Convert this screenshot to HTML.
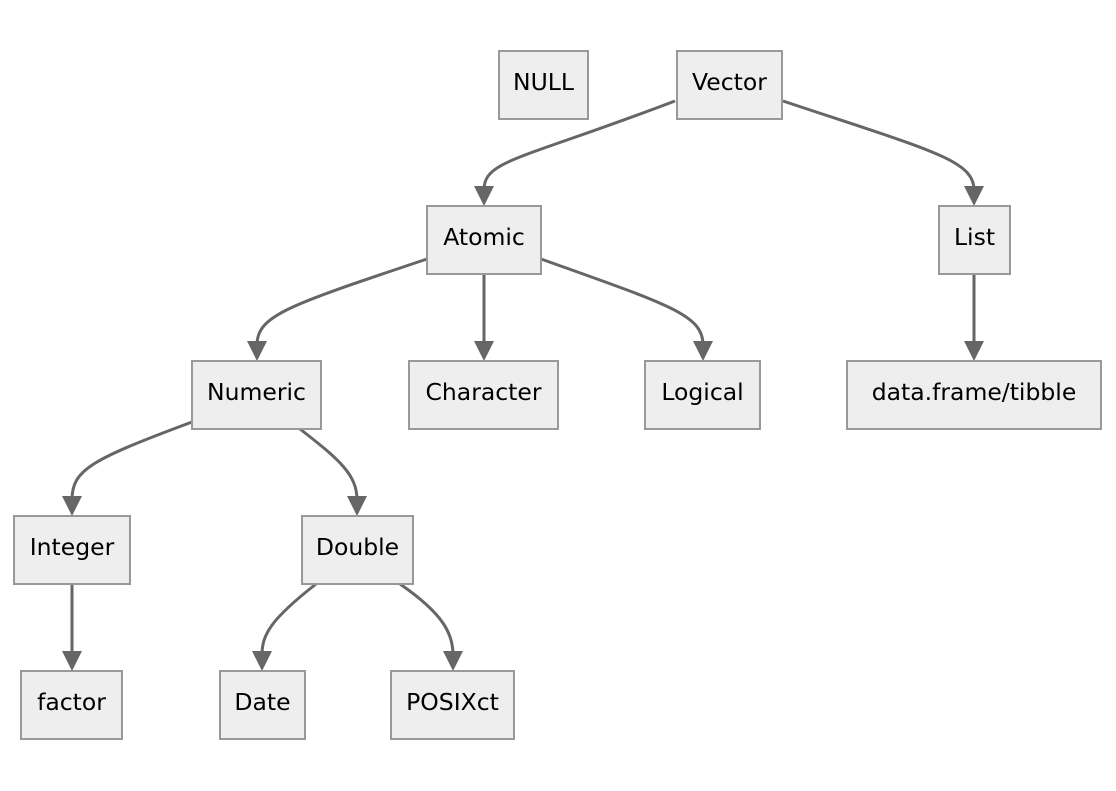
<!DOCTYPE html>
<html><head><meta charset="utf-8"><style>
html,body{margin:0;padding:0;background:#fff;}
svg{display:block}
text{font-family:"DejaVu Sans","Liberation Sans",sans-serif;font-size:23.5px;fill:#000;text-anchor:middle;dominant-baseline:central}
rect{fill:#eee;stroke:#999;stroke-width:2}
path.e{fill:none;stroke:#666;stroke-width:3}
polygon{fill:#666}
</style></head><body>
<svg width="1116" height="791" viewBox="0 0 1116 791">
<path class="e" d="M675,101 C520,160 484,160 484,190"/><polygon points="474,186 494,186 484,206"/>
<path class="e" d="M783,101 C930,150 974,160 974,190"/><polygon points="964,186 984,186 974,206"/>
<path class="e" d="M427,259 C290,305 257,315 257,345"/><polygon points="247,341 267,341 257,361"/>
<path class="e" d="M484,274 L484,345"/><polygon points="474,341 494,341 484,361"/>
<path class="e" d="M541,259 C670,305 703,315 703,345"/><polygon points="693,341 713,341 703,361"/>
<path class="e" d="M974,274 L974,345"/><polygon points="964,341 984,341 974,361"/>
<path class="e" d="M192,422 C90,460 72,470 72,500"/><polygon points="62,496 82,496 72,516"/>
<path class="e" d="M300,429 C340,460 357,475 357,500"/><polygon points="347,496 367,496 357,516"/>
<path class="e" d="M72,584 L72,655"/><polygon points="62,651 82,651 72,671"/>
<path class="e" d="M316,584 C270,620 262,635 262,655"/><polygon points="252,651 272,651 262,671"/>
<path class="e" d="M400,584 C445,615 453,635 453,655"/><polygon points="443,651 463,651 453,671"/>

<rect x="499" y="51" width="89" height="68"/><text x="543.5" y="82">NULL</text>
<rect x="677" y="51" width="105" height="68"/><text x="729.5" y="82">Vector</text>
<rect x="427" y="206" width="114" height="68"/><text x="484" y="237">Atomic</text>
<rect x="939" y="206" width="71" height="68"/><text x="974.5" y="237">List</text>
<rect x="192" y="361" width="129" height="68"/><text x="256.5" y="392">Numeric</text>
<rect x="409" y="361" width="149" height="68"/><text x="483.5" y="392">Character</text>
<rect x="645" y="361" width="115" height="68"/><text x="702.5" y="392">Logical</text>
<rect x="847" y="361" width="254" height="68"/><text x="974" y="392">data.frame/tibble</text>
<rect x="14" y="516" width="116" height="68"/><text x="72" y="547">Integer</text>
<rect x="302" y="516" width="111" height="68"/><text x="357.5" y="547">Double</text>
<rect x="21" y="671" width="101" height="68"/><text x="71.5" y="702">factor</text>
<rect x="220" y="671" width="85" height="68"/><text x="262.5" y="702">Date</text>
<rect x="391" y="671" width="123" height="68"/><text x="452.5" y="702">POSIXct</text>
</svg>
</body></html>
